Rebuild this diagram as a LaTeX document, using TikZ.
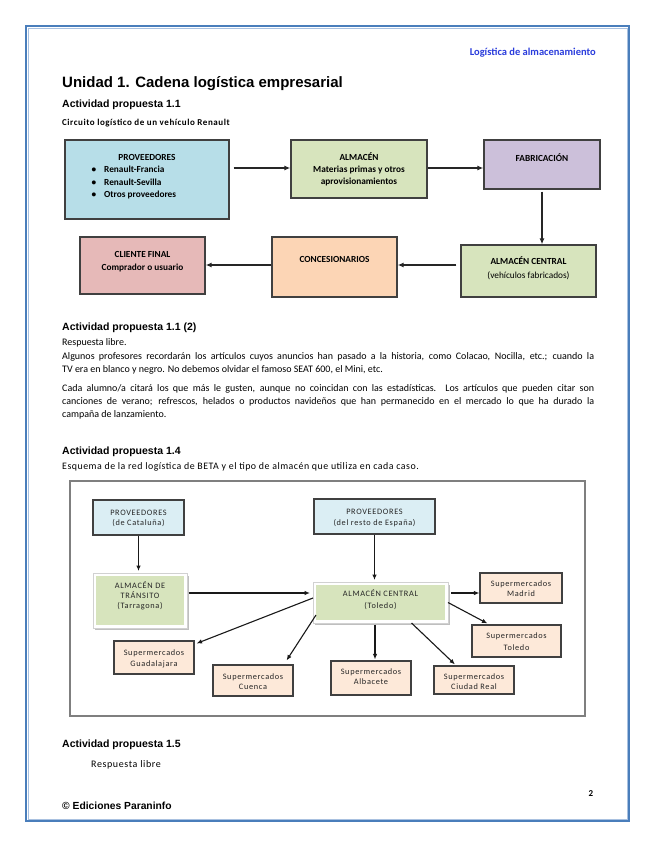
\documentclass[tikz,border=0pt]{standalone}
\usepackage{fontspec}
\setmainfont{Carlito}
\newfontfamily\arialf{Liberation Sans}
\newfontfamily\trk[LetterSpace=6]{Carlito}
\newfontfamily\trkc[LetterSpace=5]{Carlito}
\newfontfamily\trkb[LetterSpace=8]{Carlito}
\usetikzlibrary{arrows.meta,calc}
\definecolor{pageblue}{HTML}{4A7EBB}
\definecolor{pagebluel}{HTML}{A9C1E0}
\definecolor{headblue}{HTML}{2A3CDC}
\definecolor{provblue}{HTML}{B7DEE8}
\definecolor{provbluel}{HTML}{DBEEF4}
\definecolor{almgreen}{HTML}{D7E4BD}
\definecolor{fabpurple}{HTML}{CCC0DA}
\definecolor{concorange}{HTML}{FCD5B5}
\definecolor{clipink}{HTML}{E6B9B8}
\definecolor{peach}{HTML}{FDE9D9}
\definecolor{boxgray}{HTML}{404040}
\definecolor{framegray}{HTML}{7F7F7F}
\tikzset{
  boxa/.style={draw=boxgray, line width=1.3pt, inner sep=0pt},
  boxb/.style={draw=boxgray, line width=1.1pt, inner sep=0pt},
  framedbox/.style={fill=almgreen, draw=white, line width=3pt, inner sep=0pt},
  txa/.style={anchor=base, inner sep=0pt, font=\bfseries\fontsize{9.3}{11}\selectfont},
  txb/.style={anchor=base, inner sep=0pt, font=\trkb\fontsize{8.3}{10}\selectfont, text=black!85},
  heading/.style={anchor=base west, inner sep=0pt, font=\arialf\bfseries\fontsize{10.5}{12}\selectfont},
  body/.style={anchor=base west, inner sep=0pt, font=\fontsize{10}{12}\selectfont},
  arra/.style={-{Latex[length=6pt,width=5pt]}, line width=1.3pt, black!85},
  arrb/.style={-{Latex[length=5.5pt,width=4.5pt]}, line width=1.1pt, black!90},
}
\newcommand{\jline}[1]{\makebox[532pt][s]{#1}}
\begin{document}
\begin{tikzpicture}[x=1pt,y=-1pt]
\useasboundingbox (0,0) rectangle (655,848);
\fill[white] (0,0) rectangle (655,848);
% page border
\draw[pageblue, line width=2pt] (26,26) rectangle (629,821);
\draw[pagebluel, line width=0.8pt] (28,28) rectangle (627,819);

% header and title
\node[anchor=base east, inner sep=0pt, text=headblue, font=\bfseries\fontsize{10.5}{12}\selectfont] (hdr) at (596,55.5) {Logística de almacenamiento};
\node[anchor=base west, inner sep=0pt, font=\arialf\bfseries\fontsize{15}{18}\selectfont] (title) at (62,87.5) {Unidad 1. Cadena logística empresarial};
\node[heading] (h11) at (62,108) {Actividad propuesta 1.1};
\node[anchor=base west, inner sep=0pt, font=\trk\bfseries\fontsize{9}{11}\selectfont] (circ) at (62,125.5) {Circuito logístico de un vehículo Renault};

% diagram 1
\node[boxa, fill=provblue, minimum width=164, minimum height=79] (prov) at (147,179.5) {};
\node[boxa, fill=almgreen, minimum width=136, minimum height=58] (alm) at (359,169) {};
\node[boxa, fill=fabpurple, minimum width=116, minimum height=49] (fab) at (542,164.5) {};
\node[boxa, fill=almgreen, minimum width=135, minimum height=52] (almc) at (528.5,271) {};
\node[boxa, fill=concorange, minimum width=125, minimum height=60] (conc) at (334.5,267) {};
\node[boxa, fill=clipink, minimum width=125, minimum height=57] (cli) at (142.5,265.5) {};

\node[txa] (provT) at (147,160) {PROVEEDORES};
\node[txa] (b1) at (94,172) {•};
\node[txa] (b2) at (94,185) {•};
\node[txa] (b3) at (94,197) {•};
\node[txa, anchor=base west] (p1) at (104,172) {Renault-Francia};
\node[txa, anchor=base west] (p2) at (104,185) {Renault-Sevilla};
\node[txa, anchor=base west] (p3) at (104,197) {Otros proveedores};
\node[txa] (almT1) at (359,160) {ALMACÉN};
\node[txa] (almT2) at (359,172) {Materias primas y otros};
\node[txa] (almT3) at (359,184) {aprovisionamientos};
\node[txa] (fabT) at (542,161) {FABRICACIÓN};
\node[txa] (almcT1) at (528.5,264) {ALMACÉN CENTRAL};
\node[txa, font=\fontsize{9.3}{11}\selectfont] (almcT2) at (528.5,278) {(vehículos fabricados)};
\node[txa] (concT) at (334.5,262) {CONCESIONARIOS};
\node[txa] (cliT1) at (142.5,257) {CLIENTE FINAL};
\node[txa] (cliT2) at (142.5,270) {Comprador o usuario};

\draw[arra] ($(prov.east)+(4,-11.5)$) -- ($(alm.west)+(0,-1)$);
\draw[arra] ($(alm.east)+(0,-1)$) -- ($(fab.west)+(0,3.5)$);
\draw[arra] ($(fab.south)+(0,2)$) -- (fab.south |- almc.north);
\draw[arra] ($(almc.west)+(-4,-6)$) -- ($(conc.east)+(0,-2)$);
\draw[arra] ($(conc.west)+(0,-2)$) -- ($(cli.east)+(0,-0.5)$);

% section 1.1 (2)
\node[heading] (h112) at (62,330.5) {Actividad propuesta 1.1 (2)};
\node[body] (l0) at (62,345) {Respuesta libre.};
\node[body] (l1) at (62,359) {\jline{Algunos profesores recordarán los artículos cuyos anuncios han pasado a la historia, como Colacao, Nocilla, etc.; cuando la}};
\node[body] (l2) at (62,372) {TV era en blanco y negro. No debemos olvidar el famoso SEAT 600, el Mini, etc.};
\node[body] (l3) at (62,391.5) {\jline{Cada alumno/a citará los que más le gusten, aunque no coincidan con las estadísticas. Los artículos que pueden citar son}};
\node[body] (l4) at (62,404.5) {\jline{canciones de verano; refrescos, helados o productos navideños que han permanecido en el mercado lo que ha durado la}};
\node[body] (l5) at (62,417.5) {campaña de lanzamiento.};

% section 1.4
\node[heading] (h14) at (62,454) {Actividad propuesta 1.4};
\node[body, font=\trkc\fontsize{9.9}{12}\selectfont] (esq) at (62,469) {Esquema de la red logística de BETA y el tipo de almacén que utiliza en cada caso.};

\draw[framegray, line width=1.2pt] (70,481) rectangle (585,716);

\node[boxb, fill=provbluel, minimum width=91, minimum height=35] (pc) at (138.5,517.5) {};
\node[boxb, fill=provbluel, minimum width=121, minimum height=35] (pe) at (374.5,516.5) {};
% framed warehouses
\fill[black!25] (95,576) rectangle (189,630);
\fill[black!25] (315,585) rectangle (450,625);
\node[framedbox, minimum width=91, minimum height=52] (at) at (140,600.5) {};
\node[framedbox, minimum width=132, minimum height=38] (ac) at (380.5,602.5) {};
\draw[black!18, line width=0.6pt] (93,573) rectangle (187,628);
\draw[black!18, line width=0.6pt] (313,582) rectangle (448,623);

\node[boxb, fill=peach, minimum width=82, minimum height=30] (smad) at (521,588) {};
\node[boxb, fill=peach, minimum width=89, minimum height=32] (stol) at (516.5,641) {};
\node[boxb, fill=peach, minimum width=80, minimum height=28] (scr) at (474,680) {};
\node[boxb, fill=peach, minimum width=80, minimum height=34] (salb) at (371,678) {};
\node[boxb, fill=peach, minimum width=80, minimum height=31] (scue) at (253,680.5) {};
\node[boxb, fill=peach, minimum width=80, minimum height=33] (sgua) at (154,657.5) {};

\node[txb] (pcT1) at (138.5,515) {PROVEEDORES};
\node[txb] (pcT2) at (138.5,525) {(de Cataluña)};
\node[txb] (peT1) at (374.5,514) {PROVEEDORES};
\node[txb] (peT2) at (374.5,525) {(del resto de España)};
\node[txb] (atT1) at (140,588) {ALMACÉN DE};
\node[txb] (atT2) at (140,598) {TRÁNSITO};
\node[txb] (atT3) at (140,608) {(Tarragona)};
\node[txb] (acT1) at (380.5,596) {ALMACÉN CENTRAL};
\node[txb] (acT2) at (380.5,608) {(Toledo)};
\node[txb] (smT1) at (521,586) {Supermercados};
\node[txb] (smT2) at (521,596) {Madrid};
\node[txb] (stT1) at (516.5,638) {Supermercados};
\node[txb] (stT2) at (516.5,650) {Toledo};
\node[txb] (scrT1) at (474,679) {Supermercados};
\node[txb] (scrT2) at (474,689) {Ciudad Real};
\node[txb] (saT1) at (371,674) {Supermercados};
\node[txb] (saT2) at (371,684.5) {Albacete};
\node[txb] (scT1) at (253,679) {Supermercados};
\node[txb] (scT2) at (253,689.5) {Cuenca};
\node[txb] (sgT1) at (154,655) {Supermercados};
\node[txb] (sgT2) at (154,666) {Guadalajara};

\draw[arrb] (pc.south) -- ($(pc.south |- at.north)+(0,-2)$);
\draw[arrb] (pe.south) -- ($(pe.south |- ac.north)+(0,-2)$);
\draw[arrb] ($(at.east)+(1.5,-7.5)$) -- ($(ac.west)+(-3,-9.5)$);
\draw[arrb] ($(ac.east)+(3,-9.5)$) -- ($(smad.west)+(0,5)$);
\draw[arrb] ($(ac.east)+(0,0)$) -- ($(stol.north west)+(16,-1)$);
\draw[arrb] ($(ac.south)+(31,0)$) -- ($(scr.north)+(-19,-1)$);
\draw[arrb] ($(ac.south)+(-5.5,1.5)$) -- ($(salb.north)+(4,-1)$);
\draw[arrb] ($(ac.south west)+(3,-8)$) -- ($(scue.north east)+(-7,-4)$);
\draw[arrb] ($(ac.west)+(0,-4.5)$) -- ($(sgua.north east)+(2,3)$);

% section 1.5
\node[heading] (h15) at (62,747) {Actividad propuesta 1.5};
\node[body, font=\trk\fontsize{10}{12}\selectfont] (rl) at (91,767.5) {Respuesta libre};
\node[anchor=base, inner sep=0pt, font=\bfseries\fontsize{9}{11}\selectfont] (pg) at (591,796.5) {2};
\node[anchor=base west, inner sep=0pt, font=\arialf\bfseries\fontsize{10.3}{12}\selectfont] (copy) at (62,809) {© Ediciones Paraninfo};
\end{tikzpicture}
\end{document}
